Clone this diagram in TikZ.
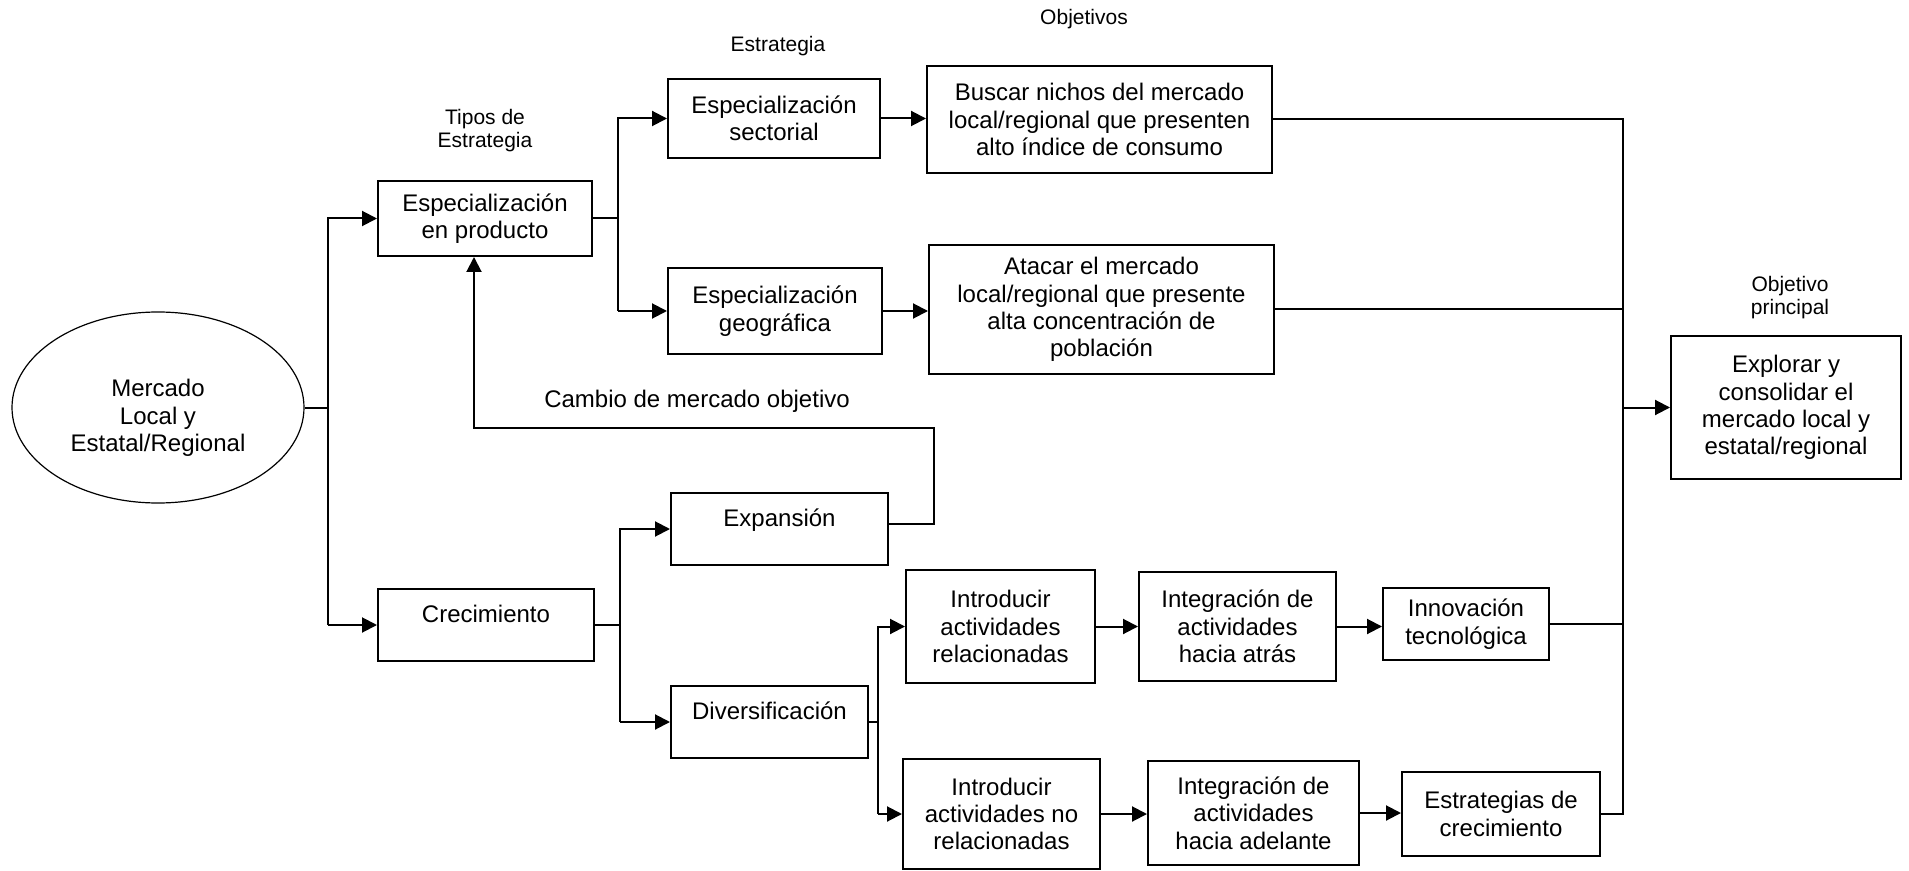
\documentclass[tikz,border=0pt]{standalone}
\usepackage{fontspec}
\setmainfont{Liberation Sans}
\usetikzlibrary{arrows.meta,shapes.geometric}
\begin{document}
\begin{tikzpicture}[x=0.5pt,y=-0.5pt,
  box/.style={draw, line width=1pt, align=center, inner sep=0pt, font=\fontsize{12}{13.7}\selectfont},
  uptext/.style={text height=8.6pt, text depth=11.5pt},
  lab/.style={align=center, inner sep=0pt, font=\fontsize{10.5}{11.5}\selectfont},
  txt/.style={align=center, inner sep=0pt, font=\fontsize{12}{13.7}\selectfont},
  ln/.style={line width=1pt},
  arr/.style={line width=1pt, -{Triangle[length=7.5pt,width=7.5pt]}}]
\useasboundingbox (0,0) rectangle (1909,871);

% nodes
\node[ellipse, draw, line width=0.6pt, minimum width=146pt, minimum height=95.5pt, inner sep=0pt] (ell) at (158,407.5) {};
\node[txt] (elltext) at (158,418) {Mercado\\Local y\\Estatal/Regional};
\node[box, minimum width=107pt, minimum height=37.5pt] (prod) at (485,218.5) {Especialización\\en producto};
\node[box, uptext, minimum width=108pt, minimum height=36pt] (crec) at (486,625) {Crecimiento};
\node[box, minimum width=106pt, minimum height=39.5pt] (sect) at (774,118.5) {Especialización\\sectorial};
\node[box, minimum width=107pt, minimum height=43pt] (geo) at (775,311) {Especialización\\geográfica};
\node[box, minimum width=172.5pt, minimum height=53.5pt] (buscar) at (1099.5,119.5) {Buscar nichos del mercado\\local/regional que presenten\\alto índice de consumo};
\node[box, minimum width=172.5pt, minimum height=64.5pt] (atacar) at (1101.5,309.5) {Atacar el mercado\\local/regional que presente\\alta concentración de\\población};
\node[box, minimum width=115pt, minimum height=71.5pt] (expl) at (1786,407.5) {Explorar y\\consolidar el\\mercado local y\\estatal/regional};
\node[box, uptext, minimum width=108.5pt, minimum height=36pt] (expan) at (779.5,529) {Expansión};
\node[box, uptext, minimum width=98.5pt, minimum height=36pt] (divers) at (769.5,722) {Diversificación};
\node[box, minimum width=94.5pt, minimum height=56.5pt] (introrel) at (1000.5,626.5) {Introducir\\actividades\\relacionadas};
\node[box, minimum width=98.5pt, minimum height=55pt] (intronorel) at (1001.5,814) {Introducir\\actividades no\\relacionadas};
\node[box, minimum width=98.5pt, minimum height=54.5pt] (integatras) at (1237.5,626.5) {Integración de\\actividades\\hacia atrás};
\node[box, minimum width=105.5pt, minimum height=52pt] (integadel) at (1253.5,813) {Integración de\\actividades\\hacia adelante};
\node[box, minimum width=83pt, minimum height=36pt] (innov) at (1466,624) {Innovación\\tecnológica};
\node[box, minimum width=99pt, minimum height=42pt] (estrat) at (1501,814) {Estrategias de\\crecimiento};

% labels
\node[lab] (ltipos) at (485,131) {Tipos de\\Estrategia};
\node[lab] (lestr) at (778,46) {Estrategia};
\node[lab] (lobj) at (1084,19) {Objetivos};
\node[lab] (lobjp) at (1790,298) {Objetivo\\principal};
\node[txt] (cambio) at (697,401) {Cambio de mercado objetivo};

% junction coordinates
\coordinate (lx) at (328,0);
\coordinate (px) at (618,0);
\coordinate (cx) at (620,0);
\coordinate (dx) at (878,0);
\coordinate (rx) at (1623,0);
\coordinate (cm) at (934,428);

% left bus
\draw[ln] (ell.east) -- (ell.east -| lx);
\draw[arr] (crec.west -| lx) |- (prod.west);
\draw[arr] (crec.west -| lx) -- (crec.west);

% specialization branch
\draw[ln] (prod.east) -- (prod.east -| px);
\draw[arr] (geo.west -| px) |- (sect.west);
\draw[arr] (geo.west -| px) -- (geo.west);
\draw[arr] (sect.east) -- (sect.east -| buscar.west);
\draw[arr] (geo.east) -- (geo.east -| atacar.west);

% growth branch
\draw[ln] (crec.east) -- (crec.east -| cx);
\draw[arr] (divers.west -| cx) |- (expan.west);
\draw[arr] (divers.west -| cx) -- (divers.west);

% change of target market loop
\draw[arr] ([yshift=2.5pt]expan.east) -| (cm) -| ([xshift=-5.5pt]prod.south);

% diversification
\draw[ln] (divers.east) -- (divers.east -| dx);
\draw[arr] (intronorel.west -| dx) |- (introrel.west);
\draw[arr] (intronorel.west -| dx) -- (intronorel.west);
\draw[arr] (introrel.east) -- (introrel.east -| integatras.west);
\draw[arr] (intronorel.east) -- (intronorel.east -| integadel.west);
\draw[arr] (integatras.east) -- (integatras.east -| innov.west);
\draw[arr] (integadel.east) -- (integadel.east -| estrat.west);

% right bus
\draw[ln] (buscar.east) -| (estrat.east -| rx) -- (estrat.east);
\draw[ln] (atacar.east) -- (atacar.east -| rx);
\draw[ln] (innov.east) -- (innov.east -| rx);
\draw[arr] (expl.west -| rx) -- (expl.west);
\end{tikzpicture}
\end{document}
